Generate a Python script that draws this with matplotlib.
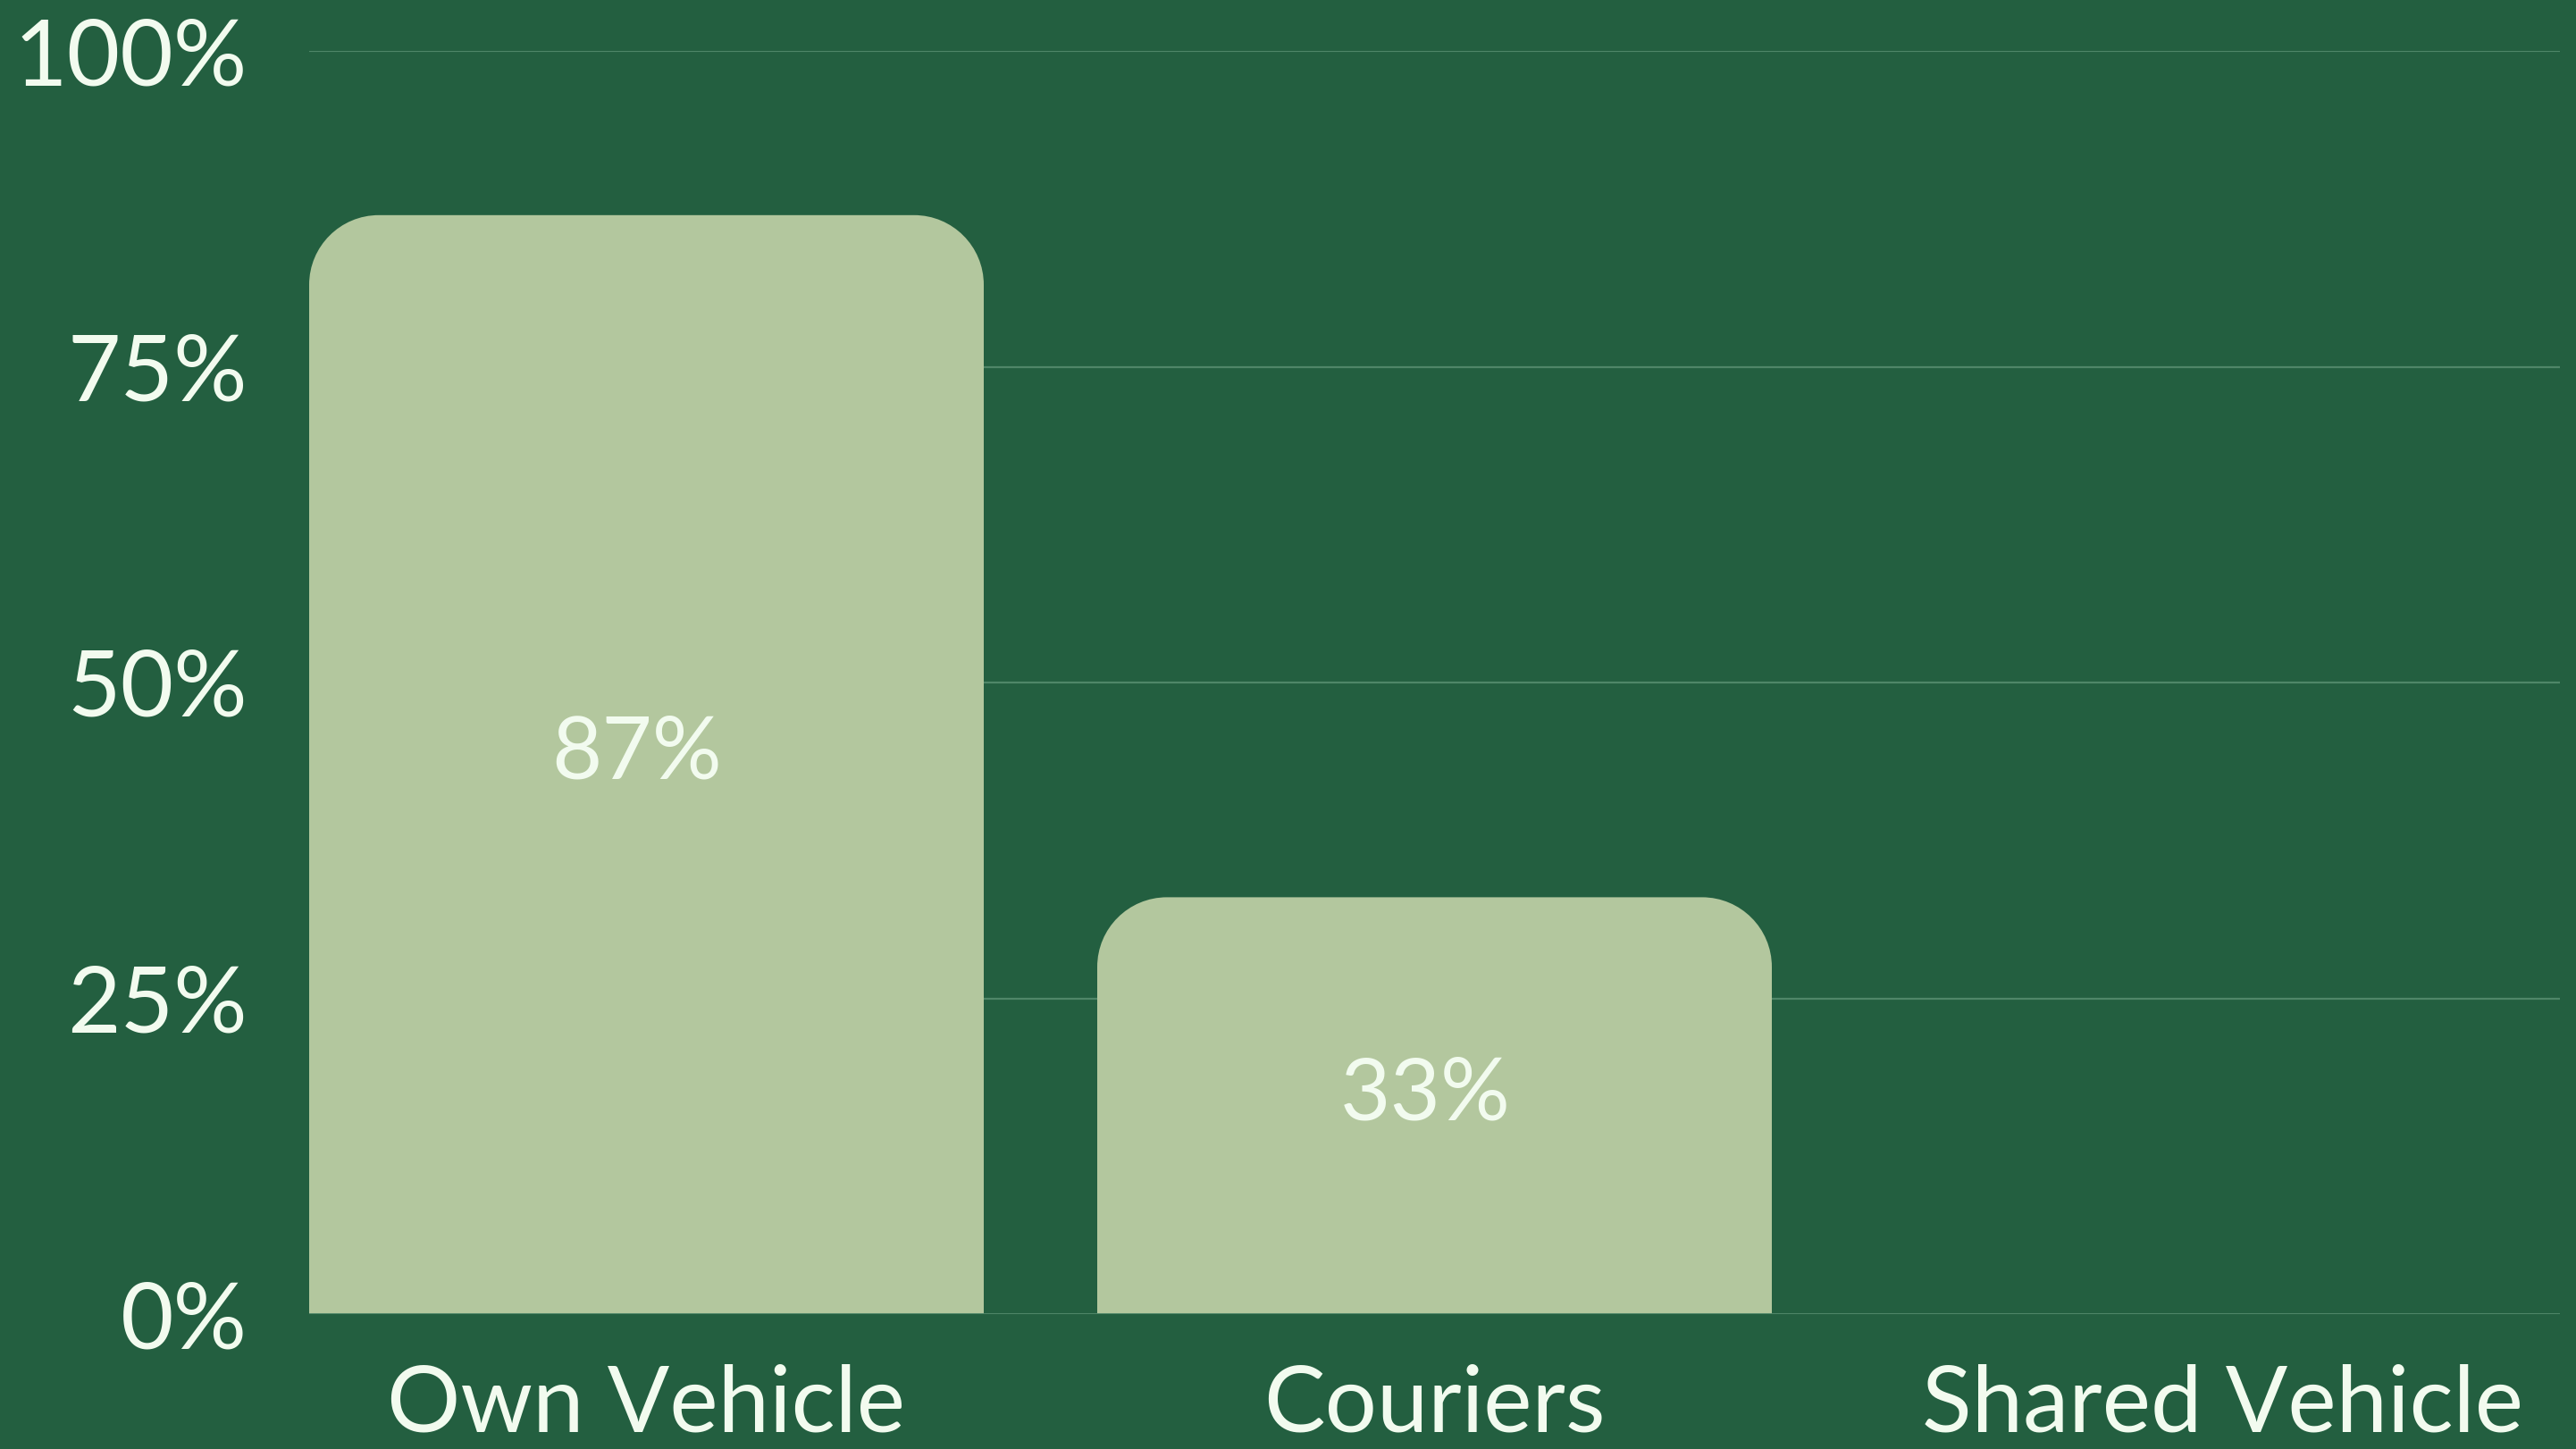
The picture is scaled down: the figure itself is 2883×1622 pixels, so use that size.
import numpy as np
import matplotlib.pyplot as plt
from matplotlib.path import Path
from matplotlib.patches import PathPatch

# --- datos ---
categories = ['Own Vehicle', 'Couriers', 'Shared Vehicle']
values = [0.87, 0.33, 0.0]
yticks = [0, 0.25, 0.5, 0.75, 1.0]
ytick_labels = ['0%', '25%', '50%', '75%', '100%']

bg = '#235f40'
bar_color = '#b3c79e'
text_color = '#f2fbef'
grid_color = '#4f8668'

W, H, DPI = 2883, 1622, 100
fig = plt.figure(figsize=(W / DPI, H / DPI), dpi=DPI, facecolor=bg)
ax = fig.add_axes([346 / W, 151 / H, 2519 / W, 1414 / H], facecolor=bg)

bw = 0.856
x = np.arange(len(categories))
ax.set_xlim(-bw / 2, len(categories) - 1 + bw / 2)
ax.set_ylim(0, 1)

# radio de esquina en pixeles -> unidades de datos
r_px = 78
rx = r_px * (ax.get_xlim()[1] - ax.get_xlim()[0]) / 2519
ry = r_px * 1.0 / 1414
k = 0.5523

for xi, v in zip(x, values):
    if v <= 0:
        continue
    x0, x1 = xi - bw / 2, xi + bw / 2
    verts = [(x0, 0), (x0, v - ry),
             (x0, v - ry + k * ry), (x0 + rx - k * rx, v), (x0 + rx, v),
             (x1 - rx, v),
             (x1 - rx + k * rx, v), (x1, v - ry + k * ry), (x1, v - ry),
             (x1, 0), (x0, 0)]
    codes = [Path.MOVETO, Path.LINETO,
             Path.CURVE4, Path.CURVE4, Path.CURVE4,
             Path.LINETO,
             Path.CURVE4, Path.CURVE4, Path.CURVE4,
             Path.LINETO, Path.CLOSEPOLY]
    ax.add_patch(PathPatch(Path(verts, codes), facecolor=bar_color, edgecolor='none', zorder=3))
    ax.text(xi - 0.012, v / 2 + 0.008, f'{round(v * 100)}%', ha='center', va='center',
            color=text_color, fontsize=70, family='Lato', zorder=4)

for yt in yticks:
    ax.axhline(yt, color=grid_color, lw=2.2 if yt == 0 else 1.6, zorder=1 if yt else 4)

ax.set_yticks(yticks)
ax.set_yticklabels(ytick_labels)
ax.set_xticks(x)
ax.set_xticklabels(categories)
ax.tick_params(axis='both', length=0, colors=text_color, labelsize=74)
ax.tick_params(axis='y', pad=50)
ax.tick_params(axis='x', pad=40)
for lab in ax.get_xticklabels() + ax.get_yticklabels():
    lab.set_family('Lato')
for s in ax.spines.values():
    s.set_visible(False)

fig.savefig('out.png', dpi=DPI, facecolor=bg)
